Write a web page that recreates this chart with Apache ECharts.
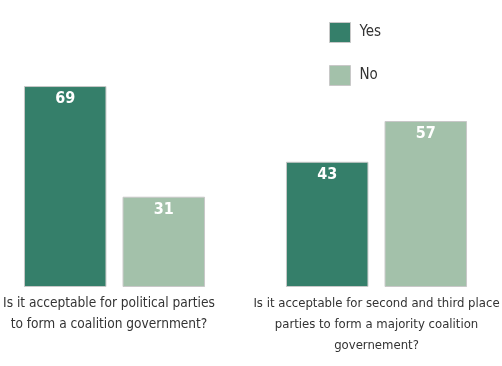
<!DOCTYPE html>
<html><head><meta charset="utf-8">
<script src="https://cdn.jsdelivr.net/npm/echarts@6/dist/echarts.min.js"></script>
<style>html,body{margin:0;padding:0;background:#fff}#c{width:502px;height:366px}</style>
</head><body><div id="c"></div>
<script>
const categories = [
  "Is it acceptable for political parties\nto form a coalition government?",
  "Is it acceptable for second and third place\nparties to form a majority coalition\ngovernement?"
];
const seriesNames = ["Yes", "No"];
const yesValues = [69, 43];
const noValues = [31, 57];

const FONT = "'Liberation Sans Narrow', 'DejaVu Sans Condensed', sans-serif";
const chart = echarts.init(document.getElementById('c'), null, {renderer: 'canvas'});
const colors = ['#357f6a', '#a3c1aa'];
const labelSizes = [13.6, 13];
const labelPads = [[0, 11, 0, 0], [0, 0, 0, 0]];
const mk = (name, data, color) => ({
  name, type: 'bar', data,
  barWidth: 82.5, barGap: '19.5%',
  itemStyle: {color, borderColor: '#c8c8c8', borderWidth: 1},
  label: {show: true, position: 'insideTop', distance: 5, color: '#fff',
          fontWeight: 'bold', fontSize: 16, fontFamily: FONT},
  emphasis: {disabled: true}
});
chart.setOption({
  animation: false,
  color: colors,
  legend: {
    orient: 'vertical', left: 324, top: 17, itemWidth: 21, itemHeight: 20, itemGap: 22,
    icon: 'rect',
    itemStyle: {borderColor: '#c8c8c8', borderWidth: 1},
    textStyle: {fontFamily: FONT, fontSize: 15, color: '#333', padding: [0, 0, 0, 4]},
    data: seriesNames
  },
  grid: {left: -16.5, width: 524, top: 54, bottom: 79, outerBoundsMode: 'none', containLabel: false},
  xAxis: {
    type: 'category',
    data: categories.map((c, i) => ({value: c, textStyle: {fontSize: labelSizes[i], padding: labelPads[i]}})),
    axisLine: {show: false}, axisTick: {show: false},
    axisLabel: {interval: 0, margin: 6, color: '#333', fontSize: 14, lineHeight: 21, fontFamily: FONT}
  },
  yAxis: {type: 'value', min: 0, max: 80, show: false, splitLine: {show: false}},
  series: [mk(seriesNames[0], yesValues, colors[0]), mk(seriesNames[1], noValues, colors[1])]
});
</script></body></html>
